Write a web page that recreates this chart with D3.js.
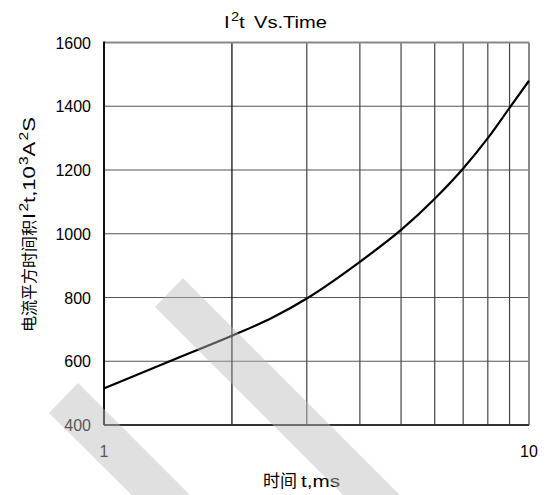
<!DOCTYPE html>
<html>
<head>
<meta charset="utf-8">
<script src="https://cdn.jsdelivr.net/npm/d3@7"></script>
<style>
  body { margin: 0; background: #fff; }
  svg { display: block; font-family: "Liberation Sans", Arial, sans-serif; }
</style>
</head>
<body>
<svg id="chart"></svg>
<script>
// time, ms
const times = [1, 1.5, 2, 2.5, 3, 4, 5, 6, 7, 8, 9, 10];
// I2t, 10^3 A^2 s
const i2t = [515, 612, 680, 738, 797, 912, 1012, 1110, 1205, 1300, 1395, 1480];
const yTicks = [400, 600, 800, 1000, 1200, 1400, 1600];
const xGrid = [2, 3, 4, 5, 6, 7, 8, 9];
const xLabels = [1, 10];

const width = 548;
const height = 495;
const marginTop = 42.5;
const marginRight = 19;
const marginBottom = 70;
const marginLeft = 104;

const x = d3.scaleLog()
    .domain([1, 10])
    .range([marginLeft, width - marginRight]);

const y = d3.scaleLinear()
    .domain([400, 1600])
    .range([height - marginBottom, marginTop]);

const svg = d3.select("#chart")
    .attr("width", width)
    .attr("height", height);

// stretch a text horizontally (in its own frame) to a given width
function fitWidth(text, w) {
    const bw = text.node().getBBox().width;
    text.attr("transform", `scale(${w / bw},1)`);
}

// horizontal grid
svg.append("g")
    .selectAll("line")
    .data(yTicks.slice(1, -1))
    .join("line")
    .attr("x1", x(1)).attr("x2", x(10))
    .attr("y1", d => y(d)).attr("y2", d => y(d))
    .attr("stroke", "#555")
    .attr("stroke-width", 1.2);

// vertical grid
svg.append("g")
    .selectAll("line")
    .data(xGrid)
    .join("line")
    .attr("x1", d => x(d)).attr("x2", d => x(d))
    .attr("y1", y(1600)).attr("y2", y(400))
    .attr("stroke", d => d === 2 ? "#000" : "#444")
    .attr("stroke-width", 1.2);

// frame
svg.append("line")
    .attr("x1", x(1)).attr("x2", x(10))
    .attr("y1", y(1600)).attr("y2", y(1600))
    .attr("stroke", "#888").attr("stroke-width", 2);
svg.append("line")
    .attr("x1", x(10)).attr("x2", x(10))
    .attr("y1", y(1600)).attr("y2", y(400))
    .attr("stroke", "#888").attr("stroke-width", 2);
svg.append("line")
    .attr("x1", x(1)).attr("x2", x(10))
    .attr("y1", y(400)).attr("y2", y(400))
    .attr("stroke", "#333").attr("stroke-width", 2);
svg.append("line")
    .attr("x1", x(1)).attr("x2", x(1))
    .attr("y1", y(1600) - 1).attr("y2", y(400))
    .attr("stroke", "#111").attr("stroke-width", 2);

// tick labels
svg.append("g")
    .selectAll("text")
    .data(yTicks)
    .join("text")
    .attr("x", marginLeft - 13)
    .attr("y", d => y(d) + 6)
    .attr("text-anchor", "end")
    .attr("font-size", 16)
    .attr("fill", "#000")
    .text(d => d);

svg.append("g")
    .selectAll("text")
    .data(xLabels)
    .join("text")
    .attr("x", d => x(d))
    .attr("y", 457)
    .attr("text-anchor", "middle")
    .attr("font-size", 16)
    .attr("fill", "#000")
    .text(d => d);

// curve
const line = d3.line()
    .x((d, i) => x(times[i]))
    .y(d => y(d))
    .curve(d3.curveMonotoneX);

svg.append("path")
    .datum(i2t)
    .attr("fill", "none")
    .attr("stroke", "#000")
    .attr("stroke-width", 2.2)
    .attr("d", line);

// title
const titleG = svg.append("g").attr("transform", "translate(224,28)");
const t1 = titleG.append("text")
    .attr("font-size", 17)
    .attr("fill", "#000");
t1.append("tspan").text("I");
t1.append("tspan").attr("font-size", 12).attr("dx", 1).attr("dy", -7).text("2");
t1.append("tspan").attr("dy", 7).text("t");
fitWidth(t1, 21);
const titleG2 = svg.append("g").attr("transform", "translate(254,28)");
const t2 = titleG2.append("text")
    .attr("font-size", 17)
    .attr("fill", "#000")
    .text("Vs.Time");
fitWidth(t2, 73);

// x label
svg.append("text")
    .attr("x", 263)
    .attr("y", 487)
    .attr("font-family", "Noto Sans CJK SC")
    .attr("font-size", 17)
    .attr("fill", "#000")
    .text("时间");
const xlG = svg.append("g").attr("transform", "translate(301,487)");
const xl = xlG.append("text")
    .attr("font-size", 17)
    .attr("fill", "#000")
    .text("t,ms");
fitWidth(xl, 39);

// y label
svg.append("text")
    .attr("transform", "translate(35,0) rotate(-90)")
    .attr("x", -332)
    .attr("font-family", "Noto Sans CJK SC")
    .attr("font-size", 16)
    .attr("fill", "#000")
    .text("电流平方时间积");
const ylG = svg.append("g").attr("transform", "translate(35,219) rotate(-90)");
const yl = ylG.append("text")
    .attr("font-size", 17)
    .attr("fill", "#000");
yl.append("tspan").text("I");
yl.append("tspan").attr("font-size", 12).attr("dx", 1).attr("dy", -7).text("2");
yl.append("tspan").attr("dy", 7).text("t,10");
yl.append("tspan").attr("font-size", 12).attr("dx", 1).attr("dy", -7).text("3");
yl.append("tspan").attr("dy", 7).text("A");
yl.append("tspan").attr("font-size", 12).attr("dx", 1).attr("dy", -7).text("2");
yl.append("tspan").attr("dy", 7).text("S");
fitWidth(yl, 102);

// watermark bands
const bands = [
    [[155, 307], [183, 278], [420, 515], [392, 544]],
    [[49, 413], [78, 383], [210, 515], [181, 544]]
];
svg.append("g")
    .selectAll("polygon")
    .data(bands)
    .join("polygon")
    .attr("points", d => d.map(p => p.join(",")).join(" "))
    .attr("fill", "#bbb")
    .attr("fill-opacity", 0.45);
</script>
</body>
</html>
